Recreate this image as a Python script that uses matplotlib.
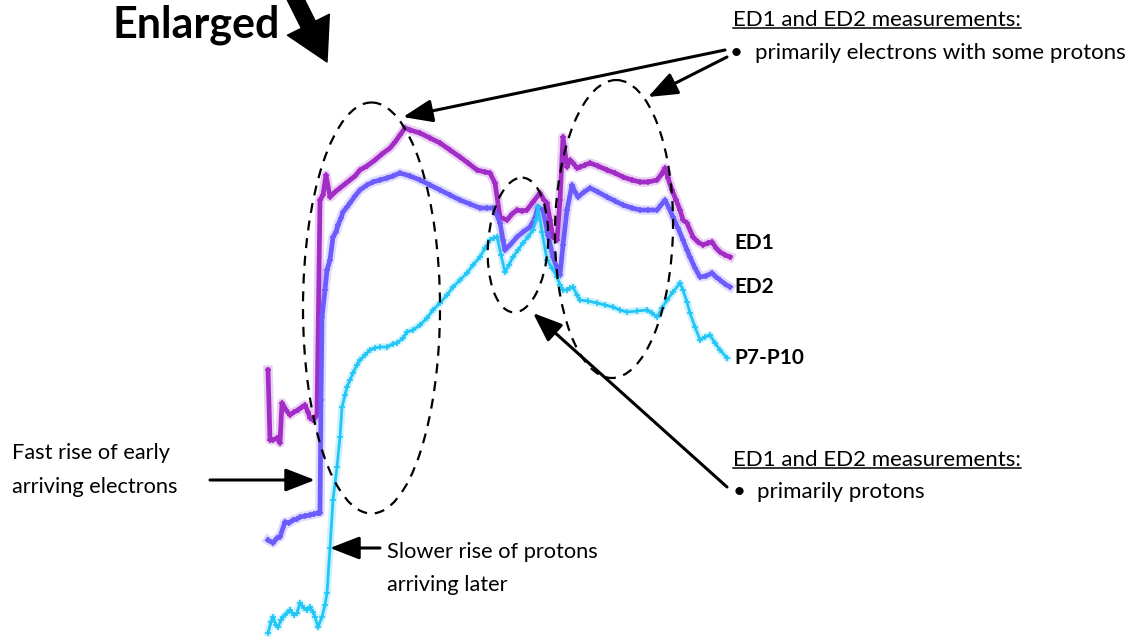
"""
Enlarged view of ED1 / ED2 / P7-P10 onset with callout annotations.
"""
import matplotlib
matplotlib.use('Agg')
import matplotlib.pyplot as plt
from matplotlib.patches import Ellipse

plt.rcParams['font.family'] = ['Lato', 'DejaVu Sans']

# traces (x = time position, y = plotted level, screen units)
ed1_x = [268, 270, 273, 277, 280, 282, 286, 290, 294, 298, 302, 305, 308, 310, 313, 317, 320, 323, 326, 330,
         335, 340, 345, 350, 355, 360, 367, 375, 382, 390, 395, 400, 405, 410, 420, 430, 440, 450, 460, 468,
         477, 485, 490, 495, 500, 507, 512, 517, 522, 527, 533, 540, 544, 547, 550, 553, 557, 560, 563, 567,
         570, 573, 577, 580, 585, 590, 598, 607, 615, 623, 632, 640, 648, 657, 661, 665, 668, 672, 676, 680,
         683, 687, 693, 698, 703, 708, 712, 716, 720, 725, 730]
ed1_y = [370, 440, 440, 438, 443, 403, 410, 415, 412, 410, 407, 405, 412, 418, 420, 415, 200, 195, 175, 197,
         192, 188, 184, 180, 176, 170, 166, 160, 154, 148, 142, 135, 128, 130, 133, 138, 143, 150, 157, 163,
         170, 172, 173, 183, 217, 220, 214, 210, 211, 210, 202, 193, 200, 203, 220, 237, 240, 200, 137, 167,
         160, 163, 168, 167, 165, 163, 166, 170, 173, 177, 180, 182, 182, 180, 175, 168, 178, 190, 200, 210,
         220, 223, 237, 242, 245, 243, 242, 248, 252, 255, 257]

ed2_x = [268, 273, 277, 280, 285, 289, 293, 297, 300, 305, 310, 314, 318, 320, 321, 322, 325, 327, 330, 333,
         336, 338, 341, 343, 347, 350, 355, 360, 367, 373, 380, 387, 393, 400, 410, 420, 430, 440, 450, 460,
         470, 480, 487, 493, 497, 500, 503, 505, 510, 517, 523, 530, 535, 538, 543, 548, 553, 557, 560, 563,
         567, 572, 575, 578, 584, 590, 598, 607, 615, 623, 632, 640, 648, 657, 661, 665, 669, 673, 678, 683,
         687, 690, 695, 700, 706, 712, 716, 720, 725, 730]
ed2_y = [540, 543, 538, 537, 522, 523, 520, 519, 517, 516, 515, 514, 513, 513, 400, 317, 290, 270, 260, 237,
         232, 225, 218, 212, 207, 203, 196, 190, 185, 182, 180, 178, 176, 173, 176, 180, 185, 190, 195, 200,
         204, 208, 208, 208, 215, 223, 240, 250, 245, 237, 232, 227, 218, 207, 210, 235, 257, 268, 275, 245,
         210, 185, 192, 197, 192, 188, 192, 197, 201, 205, 208, 210, 210, 210, 205, 200, 208, 217, 228, 240,
         250, 257, 268, 277, 276, 273, 277, 280, 284, 287]

p710_x = [268, 271, 273, 276, 278, 281, 283, 287, 290, 294, 297, 300, 304, 307, 310, 313, 315, 318, 322, 325,
          327, 330, 333, 337, 340, 342, 345, 347, 350, 353, 357, 360, 365, 370, 375, 380, 387, 393, 397, 403,
          407, 413, 420, 427, 433, 440, 447, 453, 460, 467, 473, 480, 485, 490, 494, 497, 501, 505, 509, 513,
          518, 523, 528, 533, 536, 538, 542, 547, 552, 557, 560, 563, 567, 570, 573, 577, 580, 588, 597, 605,
          613, 620, 627, 637, 647, 652, 657, 662, 667, 673, 680, 683, 687, 690, 695, 700, 705, 710, 715, 720,
          727]
p710_y = [633, 622, 617, 625, 627, 620, 617, 613, 610, 615, 613, 603, 608, 610, 607, 612, 617, 627, 617, 605,
          593, 548, 500, 467, 437, 407, 395, 387, 380, 373, 365, 360, 355, 350, 348, 347, 347, 344, 343, 338,
          332, 330, 325, 318, 310, 303, 295, 287, 280, 273, 265, 257, 248, 240, 238, 237, 255, 272, 265, 257,
          250, 243, 237, 230, 220, 207, 232, 260, 268, 277, 285, 290, 290, 288, 287, 295, 300, 301, 303, 305,
          307, 310, 312, 311, 310, 313, 317, 308, 300, 292, 283, 290, 302, 313, 327, 340, 337, 335, 343, 350,
          358]

series_names = ['ED1', 'ED2', 'P7-P10']
series_colors = ['#a12cc6', '#6b5cfb', '#22c6f6']

fig = plt.figure(figsize=(11.42, 6.38), dpi=100)
ax = fig.add_axes([0, 0, 1, 1])
ax.set_xlim(0, 1142)
ax.set_ylim(638, 0)
ax.axis('off')

traces = [(ed1_x, ed1_y), (ed2_x, ed2_y), (p710_x, p710_y)]
widths = [3.4, 3.4, 2.0]
for (xs, ys), c, w in zip(traces, series_colors, widths):
    ax.plot(xs, ys, color=c, lw=w + 3.5, alpha=0.22, solid_joinstyle='round', zorder=2)
    ax.plot(xs, ys, color=c, lw=w, marker='+', ms=5, mew=1.2, solid_joinstyle='round', zorder=3)

# series labels at the right end
label_y = [ed1_y[-1] - 14, ed2_y[-1], p710_y[-1]]
for name, y in zip(series_names, label_y):
    ax.text(734, y, name, fontsize=15, fontweight='bold', va='center', ha='left')

# dashed ellipses
for cx, cy, w, h, ang in [(371.5, 308, 137, 411, 0), (518, 245, 60, 135, 4), (614, 229, 118, 298, 1)]:
    ax.add_patch(Ellipse((cx, cy), w, h, angle=ang, fill=False, ec='black', lw=1.6,
                         linestyle=(0, (4.5, 3.5)), zorder=4))

arrow = dict(arrowstyle='-|>,head_length=0.9,head_width=0.35', color='black', lw=2.2,
             mutation_scale=20, shrinkA=0, shrinkB=0)
ax.annotate('', xy=(403, 117), xytext=(725, 50), arrowprops=arrow, zorder=5)
ax.annotate('', xy=(648, 97), xytext=(727, 57), arrowprops=arrow, zorder=5)
ax.annotate('', xy=(533, 313), xytext=(727, 487), arrowprops=arrow, zorder=5)
ax.annotate('', xy=(315, 480), xytext=(210, 480), arrowprops=arrow, zorder=5)
ax.annotate('', xy=(330, 548), xytext=(380, 548), arrowprops=arrow, zorder=5)

# big "Enlarged" arrow
ax.annotate('', xy=(327, 62), xytext=(292, -8),
            arrowprops=dict(arrowstyle='simple,head_length=1.2,head_width=1.35,tail_width=0.45',
                            fc='black', ec='black', mutation_scale=25, shrinkA=0, shrinkB=0), zorder=5)
ax.text(112, 25, 'Enlarged', fontsize=31, fontweight='bold', va='center', ha='left')

# callout texts
fs = 16
h1 = ax.text(733, 20, 'ED1 and ED2 measurements:', fontsize=fs, va='center', ha='left')
ax.text(730, 53, '\u2022', fontsize=fs, va='center', ha='left')
ax.text(755, 53, 'primarily electrons with some protons', fontsize=fs, va='center', ha='left')
h2 = ax.text(733, 460, 'ED1 and ED2 measurements:', fontsize=fs, va='center', ha='left')
ax.text(733, 492, '\u2022', fontsize=fs, va='center', ha='left')
ax.text(757, 492, 'primarily protons', fontsize=fs, va='center', ha='left')

ax.text(12, 453, 'Fast rise of early', fontsize=fs - 0.3, va='center', ha='left')
ax.text(12, 487, 'arriving electrons', fontsize=fs - 0.3, va='center', ha='left')
ax.text(387, 552, 'Slower rise of protons', fontsize=fs - 0.3, va='center', ha='left')
ax.text(387, 585, 'arriving later', fontsize=fs - 0.3, va='center', ha='left')

# underline the two headers
fig.canvas.draw()
inv = ax.transData.inverted()
for h in (h1, h2):
    bb = h.get_window_extent()
    (x0, y0), (x1, _) = inv.transform([(bb.x0, bb.y0 + 2), (bb.x1, bb.y0 + 2)])
    ax.plot([x0, x1], [y0, y0], color='black', lw=1.1)

fig.savefig('out.png', dpi=100)
